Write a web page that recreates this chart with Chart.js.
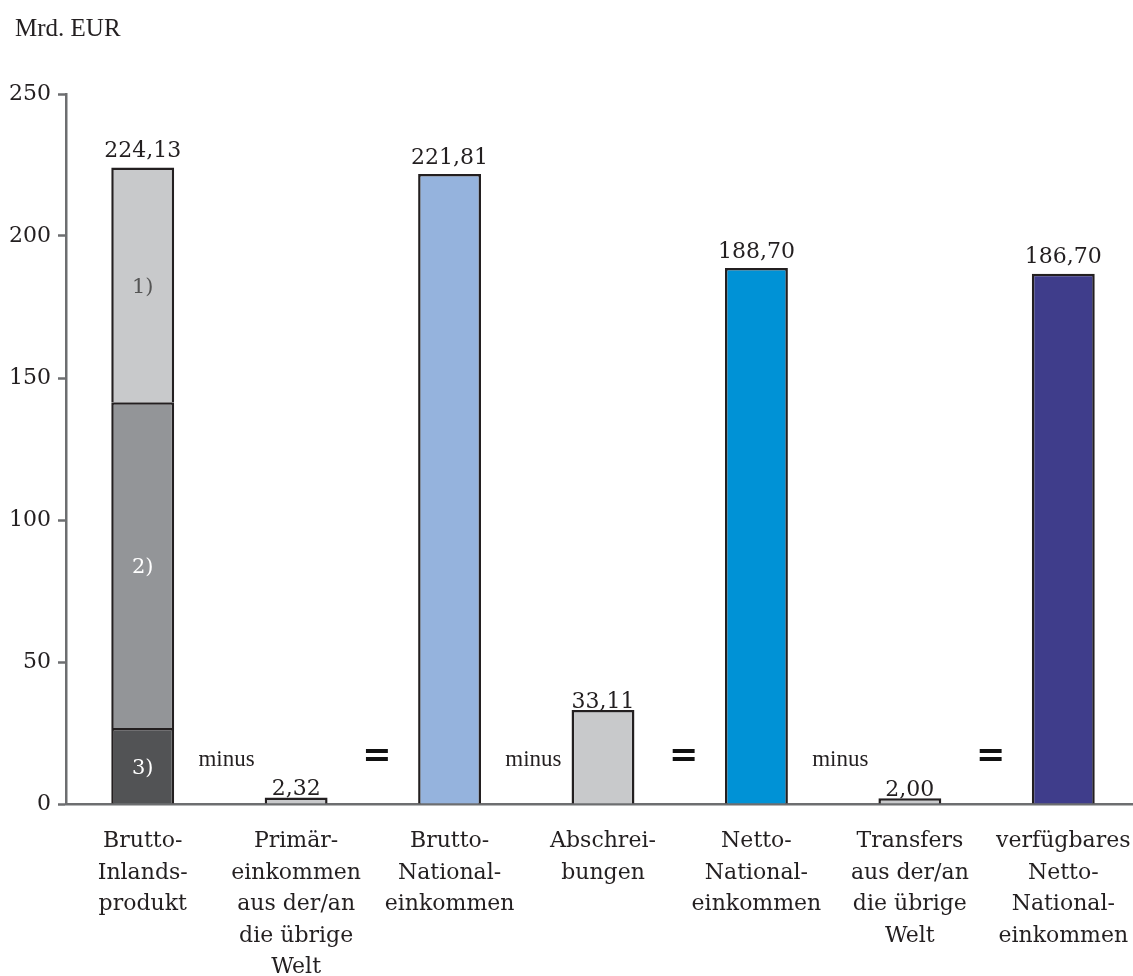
<!DOCTYPE html>
<html>
<head>
<meta charset="utf-8">
<script src="https://cdn.jsdelivr.net/npm/chart.js@4/dist/chart.umd.min.js"></script>
<style>
  html, body { margin: 0; padding: 0; background: #fff; overflow: hidden; }
  #wrap { width: 1140px; height: 976px; position: relative; }
</style>
</head>
<body>
<div id="wrap"><canvas id="chart"></canvas></div>
<script>
// Category labels (multi-line)
const categories = [
    ['Brutto-', 'Inlands-', 'produkt'],
    ['Primär-', 'einkommen', 'aus der/an', 'die übrige', 'Welt'],
    ['Brutto-', 'National-', 'einkommen'],
    ['Abschrei-', 'bungen'],
    ['Netto-', 'National-', 'einkommen'],
    ['Transfers', 'aus der/an', 'die übrige', 'Welt'],
    ['verfügbares', 'Netto-', 'National-', 'einkommen']
];

// GDP split into three parts (bottom to top)
const gdpPart3 = [26.8, null, null, null, null, null, null];
const gdpPart2 = [114.7, null, null, null, null, null, null];
const gdpPart1 = [82.63, null, null, null, null, null, null];
const segmentLabels = ['3)', '2)', '1)'];

// Resulting aggregates
const aggregates = [null, null, 221.81, null, 188.70, null, 186.70];
const aggregateColors = [null, null, '#95b3dd', null, '#0092d6', null, '#3f3d8b'];

// Deductions
const deductions = [null, 2.32, null, 33.11, null, 2.00, null];

const yTicks = [0, 50, 100, 150, 200, 250];

const serif = '"DejaVu Serif", serif';
const textColor = '#231f20';
const axisColor = '#6d6e70';

const fmt = v => v.toFixed(2).replace('.', ',');

// Draws values, segment labels, "minus" and "=" markers
const annotations = {
    id: 'annotations',
    afterDatasetsDraw(chart) {
        const ctx = chart.ctx;
        const x = chart.scales.x;
        const y = chart.scales.y;
        ctx.save();

        // segment labels inside the GDP bar
        [0, 1, 2].forEach(di => {
            const el = chart.getDatasetMeta(di).data[0];
            ctx.font = '21px ' + serif;
            ctx.fillStyle = di === 2 ? '#555555' : '#ffffff';
            ctx.textAlign = 'center';
            ctx.textBaseline = 'middle';
            ctx.fillText(segmentLabels[di], el.x, (el.y + el.base) / 2 + 3);
        });

        // totals above the bars
        categories.forEach((c, i) => {
            let total = 0, topEl = null, small = false;
            chart.data.datasets.forEach((ds, di) => {
                const v = ds.data[i];
                if (v != null) {
                    total += v;
                    topEl = chart.getDatasetMeta(di).data[i];
                    small = ds.label === 'Abzug';
                }
            });
            if (!topEl) return;
            ctx.font = '22px ' + serif;
            ctx.fillStyle = textColor;
            ctx.textAlign = 'center';
            ctx.textBaseline = 'bottom';
            ctx.fillText(fmt(total), topEl.x, topEl.y + (small ? 3 : -5));
        });

        // "minus" left of each deduction bar
        const dedMeta = chart.getDatasetMeta(4);
        deductions.forEach((v, i) => {
            if (v == null) return;
            const el = dedMeta.data[i];
            ctx.font = '23px "Liberation Serif", serif';
            ctx.fillStyle = textColor;
            ctx.textAlign = 'right';
            ctx.textBaseline = 'middle';
            ctx.fillText('minus', el.x - el.width / 2 - 10, y.getPixelForValue(15.5));
        });

        // "=" between deduction and following aggregate
        deductions.forEach((v, i) => {
            if (v == null) return;
            const mid = (x.getPixelForValue(i) + x.getPixelForValue(i + 1)) / 2;
            ctx.font = 'bold 35px "DejaVu Sans", sans-serif';
            ctx.fillStyle = '#111111';
            ctx.textAlign = 'center';
            ctx.textBaseline = 'middle';
            ctx.fillText('=', mid + 4, y.getPixelForValue(16.5));
        });

        // unit label
        ctx.font = '25px "Liberation Serif", serif';
        ctx.fillStyle = textColor;
        ctx.textAlign = 'left';
        ctx.textBaseline = 'middle';
        ctx.fillText('Mrd. EUR', 15, 29);

        ctx.restore();
    }
};

const barStyle = {
    borderColor: '#231f20',
    borderWidth: 2.5,
    barPercentage: 0.41,
    categoryPercentage: 1
};

new Chart(document.getElementById('chart'), {
    type: 'bar',
    data: {
        labels: categories,
        datasets: [
            { label: 'Teil 3', data: gdpPart3, backgroundColor: '#525355', ...barStyle },
            { label: 'Teil 2', data: gdpPart2, backgroundColor: '#939598', ...barStyle },
            { label: 'Teil 1', data: gdpPart1, backgroundColor: '#c8c9cb', ...barStyle },
            { label: 'Aggregat', data: aggregates, backgroundColor: aggregateColors, ...barStyle },
            { label: 'Abzug', data: deductions, backgroundColor: '#c8c9cb', ...barStyle }
        ]
    },
    options: {
        responsive: true,
        maintainAspectRatio: false,
        animation: false,
        layout: { padding: { top: 94, left: 0, right: 0, bottom: 0 } },
        plugins: {
            legend: { display: false },
            tooltip: { enabled: false }
        },
        scales: {
            x: {
                stacked: true,
                grid: { display: true, drawOnChartArea: false, drawTicks: false },
                border: { color: axisColor, width: 2.5 },
                ticks: {
                    color: textColor,
                    font: { family: serif, size: 22, lineHeight: 1.43 },
                    padding: 22,
                    maxRotation: 0,
                    autoSkip: false
                },
                afterFit(scale) {
                    scale.height = 172;
                    scale.paddingLeft = 0;
                    scale.paddingRight = 0;
                }
            },
            y: {
                stacked: true,
                min: 0,
                max: 250,
                afterBuildTicks(scale) { scale.ticks = yTicks.map(v => ({ value: v })); },
                grid: { drawOnChartArea: false, drawTicks: true, tickLength: 8, tickColor: axisColor, tickWidth: 2.5 },
                border: { color: axisColor, width: 2.5 },
                ticks: {
                    color: textColor,
                    font: { family: serif, size: 22 },
                    padding: 7
                },
                afterFit(scale) { scale.width = 66; }
            }
        }
    },
    plugins: [annotations]
});
</script>
</body>
</html>
